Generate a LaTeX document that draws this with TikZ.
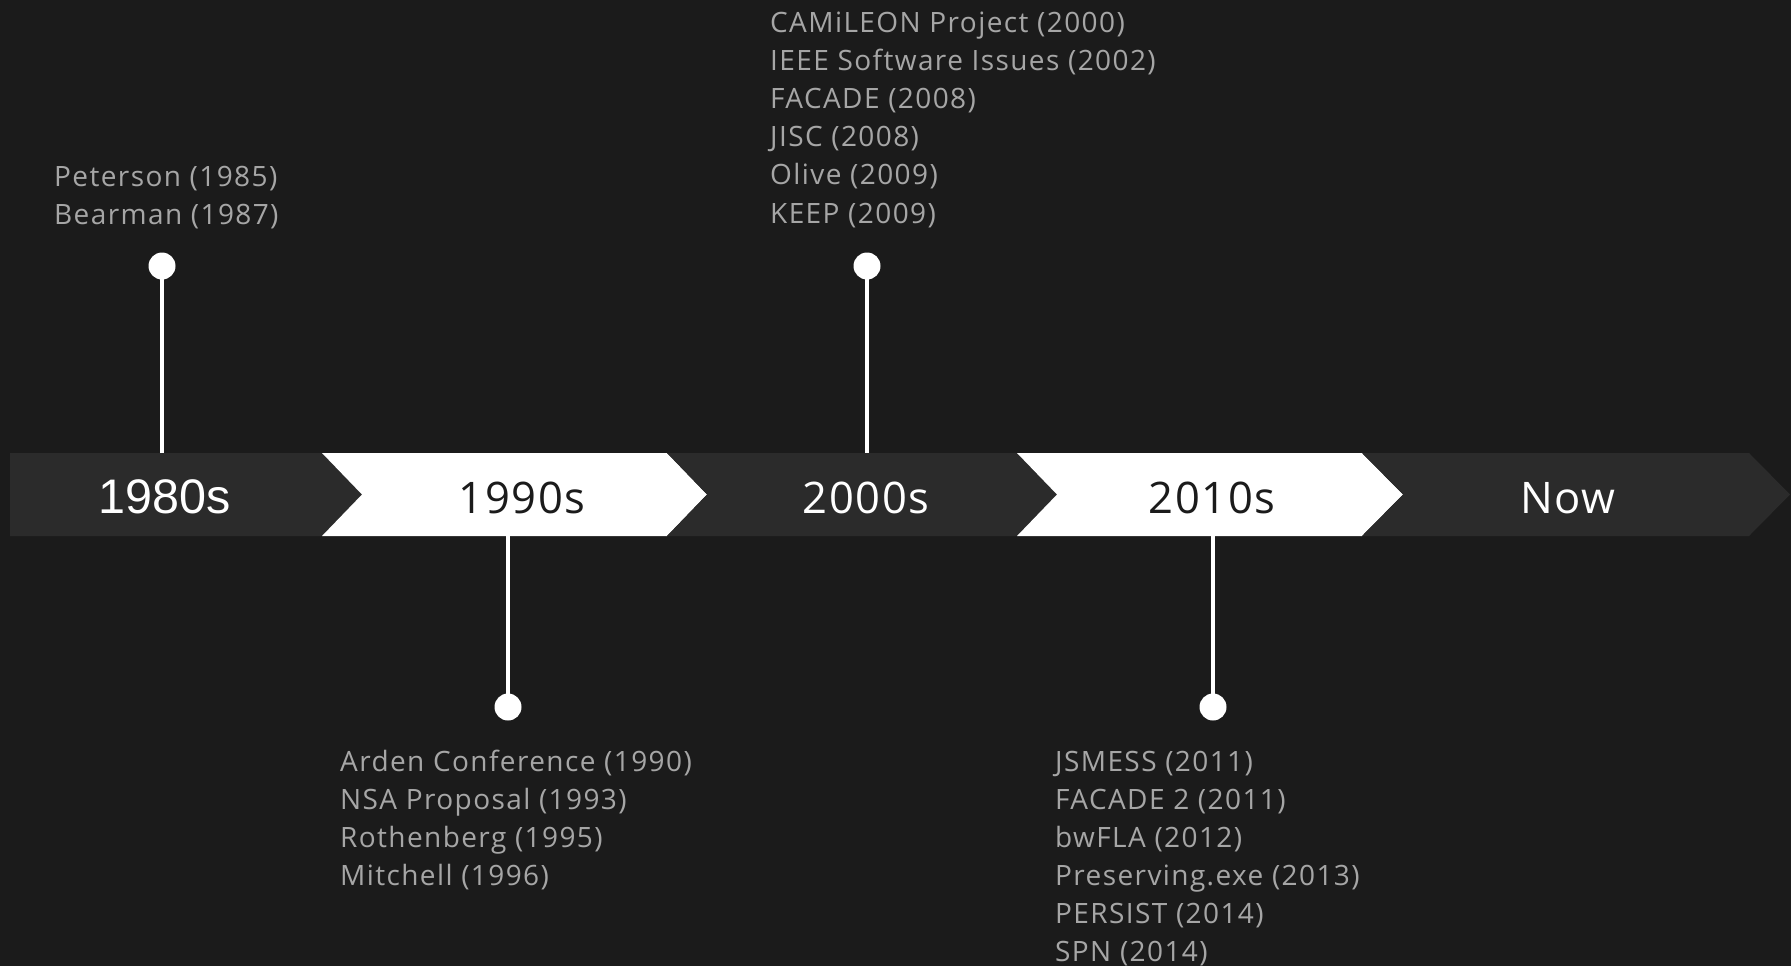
\documentclass[tikz,border=0pt]{standalone}
\usepackage{fontspec}
\newfontfamily\labfont[LetterSpace=5.0]{Open Sans}
\newfontfamily\bandfont[LetterSpace=3.5]{Open Sans}
\newfontfamily\arialfont{Liberation Sans}
\definecolor{bg}{HTML}{1B1B1B}
\definecolor{seg}{HTML}{2B2B2B}
\definecolor{txt}{HTML}{A6A6A6}
\begin{document}
\begin{tikzpicture}[x=1pt,y=-1pt,
  evline/.style={anchor=base west, inner sep=0pt, text=txt, font=\labfont\fontsize{28}{34}\selectfont},
  dectext/.style={anchor=base, inner sep=0pt, font=\bandfont\fontsize{43.5}{50}\selectfont},
  pin/.style={circle, fill=white, minimum size=27pt, inner sep=0pt},
  stem/.style={draw=white, line width=4.5pt},
  darkseg/.style={fill=seg},
  lightseg/.style={fill=white}]
\fill[bg] (0,0) rectangle (1791,966);
\useasboundingbox (0,0) rectangle (1791,966);
% band segments
\fill[darkseg] (10,453) -- (322,453) -- (362,494.5) -- (322,536) -- (10,536) -- cycle;
\fill[lightseg] (322,453) -- (667,453) -- (707,494.5) -- (667,536) -- (322,536) -- (362,494.5) -- cycle;
\fill[darkseg] (667,453) -- (1017,453) -- (1057,494.5) -- (1017,536) -- (667,536) -- (707,494.5) -- cycle;
\fill[lightseg] (1017,453) -- (1362,453) -- (1403,494.5) -- (1362,536) -- (1017,536) -- (1057,494.5) -- cycle;
\fill[darkseg] (1362,453) -- (1749,453) -- (1790,494.5) -- (1749,536) -- (1362,536) -- (1403,494.5) -- cycle;
% band labels
\node[anchor=base, inner sep=0pt, text=white, font=\arialfont\fontsize{48.5}{54}\selectfont] (d80) at (165,513) {1980s};
\node[dectext, text=bg] (d90) at (522,513) {1990s};
\node[dectext, text=white] (d00) at (866,513) {2000s};
\node[dectext, text=bg] (d10) at (1212,513) {2010s};
\node[dectext, text=white] (dnow) at (1568,513) {Now};
% pins and stems
\coordinate (b80) at (162,453);
\coordinate (b90) at (508,536);
\coordinate (b00) at (867,453);
\coordinate (b10) at (1213,536);
\node[pin] (p80) at (162,266) {};
\node[pin] (p90) at (508,707) {};
\node[pin] (p00) at (867,266) {};
\node[pin] (p10) at (1213,707) {};
\draw[stem] (p80.center) -- (b80);
\draw[stem] (p90.center) -- (b90);
\draw[stem] (p00.center) -- (b00);
\draw[stem] (p10.center) -- (b10);
% event lists
\foreach \t [count=\i from 0] in {Peterson (1985), Bearman (1987)}
  \node[evline] (e80-\i) at (54,186.7+38.2*\i) {\t};
\foreach \t [count=\i from 0] in {CAMiLEON Project (2000), IEEE Software Issues (2002), FACADE (2008), JISC (2008), Olive (2009), KEEP (2009)}
  \node[evline] (e00-\i) at (770,32.3+38.15*\i) {\t};
\foreach \t [count=\i from 0] in {Arden Conference (1990), NSA Proposal (1993), Rothenberg (1995), Mitchell (1996)}
  \node[evline] (e90-\i) at (340,771+38*\i) {\t};
\foreach \t [count=\i from 0] in {JSMESS (2011), FACADE 2 (2011), bwFLA (2012), Preserving.exe (2013), PERSIST (2014), SPN (2014)}
  \node[evline] (e10-\i) at (1055,771+38*\i) {\t};
\end{tikzpicture}
\end{document}
